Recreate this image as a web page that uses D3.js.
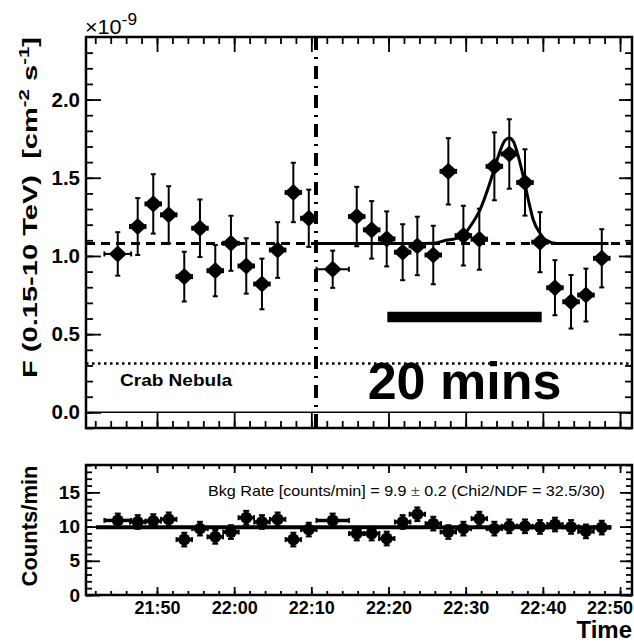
<!DOCTYPE html>
<html>
<head>
<meta charset="utf-8">
<script src="https://cdn.jsdelivr.net/npm/d3@7"></script>
<style>
  html, body { margin: 0; padding: 0; background: #fff; }
  svg { display: block; }
  text { font-family: "Liberation Sans", Arial, Helvetica, sans-serif; fill: #000; }
</style>
</head>
<body>
<svg id="chart" width="634" height="644"></svg>
<script>
// ---- light curve: 2-minute bins ----
const binTimes = [
  "21:44:55","21:47:30","21:49:31","21:51:31","21:53:32","21:55:34","21:57:33",
  "21:59:35","22:01:34","22:03:36","22:05:38","22:07:40","22:09:40","22:12:46",
  "22:15:53","22:17:49","22:19:46","22:21:50","22:23:44","22:25:48","22:27:45",
  "22:29:42","22:31:46","22:33:43","22:35:39","22:37:41","22:39:38","22:41:34",
  "22:43:39","22:45:35","22:47:38"
];
// half bin width in minutes
const binHalfWidth = [
  1.73,1,1,1,1,1,1,1,1,1,1,1,1,2.1,1,1,1,1,1,1,1,1,1,1,1,1,1,1,1,1,1
];
// integral flux above 0.15 TeV, units of 1e-9 cm^-2 s^-1
const flux = [
  1.013,1.188,1.333,1.263,0.868,1.177,0.906,1.081,0.936,0.821,1.038,1.406,1.241,
  0.915,1.252,1.167,1.109,1.024,1.064,1.006,1.541,1.130,1.107,1.573,1.652,1.470,
  1.088,0.797,0.707,0.750,0.985
];
const fluxErr = [
  0.139,0.182,0.190,0.183,0.159,0.184,0.164,0.176,0.177,0.162,0.178,0.190,0.183,
  0.119,0.190,0.184,0.176,0.179,0.187,0.187,0.212,0.191,0.195,0.217,0.222,0.212,
  0.192,0.176,0.171,0.169,0.186
];
// background rate per bin (counts/min)
const bkgRate = [
  10.9,10.67,10.8,11.06,8.1,9.7,8.5,9.2,11.3,10.67,11.06,8.1,9.56,10.9,8.98,8.98,
  8.25,10.67,11.8,10.43,9.2,9.7,11.16,9.7,10.04,10.04,9.95,10.3,9.95,9.3,9.85
];
const bkgErr = [
  1,1,1,1,1,1,1,1,1,1,1,1,1,1,1,1,1,1,1,1,1,1,1,1,1,1,1,1,1,1,1
];

// reference levels
const meanFlux = 1.08;
const crabFlux = 0.312;
const bkgMean = 9.9;
const bkgFitStart = "21:42:06";
const bkgFitEnd = "22:48:54";
const splitTime = "22:10:36";

// flare fit curve (second part of the night)
const fitTimes = [
  "22:10:36","22:21:30","22:25:48","22:27:06","22:29:30","22:30:36","22:31:51",
  "22:33:09","22:33:48","22:34:27","22:35:06","22:35:39","22:36:10","22:36:49",
  "22:37:28","22:38:07","22:38:46","22:39:38","22:40:30","22:41:48","22:48:30"
];
const fitFlux = [
  1.08,1.08,1.081,1.096,1.124,1.19,1.295,1.47,1.573,1.67,1.74,1.754,1.733,1.637,
  1.508,1.359,1.23,1.145,1.098,1.08,1.08
];

// 20-minute scale bar
const scaleBarStart = "22:19:51";
const scaleBarMinutes = 20;
const scaleBarLevel = 0.61;

// axis tick settings
const fluxMajorTicks = [0, 0.5, 1.0, 1.5, 2.0];
const rateMajorTicks = [0, 5, 10, 15];
const timeDomain = ["21:40:48", "22:51:33"];

// ---------------------------------------------------------------
const parse = d3.timeParse("%H:%M:%S");
const svg = d3.select("#chart");

const W = 634;
const L = 86, R = 632;
const topT = 37, topB = 428;
const botT = 465, botB = 595;

const x = d3.scaleTime().domain(timeDomain.map(parse)).range([L, R]);
const yF = d3.scaleLinear().domain([-0.1, 2.4]).range([topB, topT]);
const yC = d3.scaleLinear().domain([0, 19]).range([botB, botT]);

const addMin = (t, m) => new Date(t.getTime() + m * 60000);
const bins = binTimes.map((s, i) => ({
  t: parse(s), hw: binHalfWidth[i],
  f: flux[i], fe: fluxErr[i], b: bkgRate[i], be: bkgErr[i]
}));

const majorTime = d3.timeMinute.every(10);
const minorTime = d3.timeMinute.every(2);

function styleAxis(g, w) {
  g.select(".domain").remove();
  g.selectAll(".tick line").attr("stroke", "#000").attr("stroke-width", w);
}

function frameAxes(yScale, top, bottom, opts) {
  const g = svg.append("g");
  // time axes, bottom and top
  g.append("g").attr("transform", `translate(0,${bottom})`)
    .call(d3.axisBottom(x).ticks(minorTime).tickSize(-opts.tMinor).tickFormat(""))
    .call(s => styleAxis(s, 1.8));
  const bMaj = g.append("g").attr("transform", `translate(0,${bottom})`)
    .call(d3.axisBottom(x).ticks(majorTime).tickSize(-opts.tMajor).tickPadding(opts.labelPad)
      .tickFormat(opts.timeLabels ? d3.timeFormat("%H:%M") : ""))
    .call(s => styleAxis(s, 1.8));
  bMaj.selectAll("text").attr("font-size", 18).attr("font-weight", "bold")
    .attr("dy", "0.71em").attr("fill", "#000");
  // keep the last time label inside the page
  bMaj.selectAll(".tick").each(function () {
    const t = d3.select(this).select("text");
    if (t.empty() || !t.text()) return;
    const box = this.getBBox();
    const tx = +d3.select(this).attr("transform").match(/translate\(([-\d.]+)/)[1];
    const half = t.node().getComputedTextLength() / 2;
    if (tx + half > W - 1) t.attr("x", W - 1 - half - tx);
  });
  g.append("g").attr("transform", `translate(0,${top})`)
    .call(d3.axisTop(x).ticks(minorTime).tickSize(-opts.tMinor).tickFormat(""))
    .call(s => styleAxis(s, 1.8));
  g.append("g").attr("transform", `translate(0,${top})`)
    .call(d3.axisTop(x).ticks(majorTime).tickSize(-opts.tMajor).tickFormat(""))
    .call(s => styleAxis(s, 1.8));
  // value axes, left and right
  g.append("g").attr("transform", `translate(${L},0)`)
    .call(d3.axisLeft(yScale).tickValues(opts.yMinor).tickSize(-opts.yMinorLen).tickFormat(""))
    .call(s => styleAxis(s, 1.8));
  const lMaj = g.append("g").attr("transform", `translate(${L},0)`)
    .call(d3.axisLeft(yScale).tickValues(opts.yMajor).tickSize(-opts.yMajorLen)
      .tickPadding(6).tickFormat(opts.yFormat))
    .call(s => styleAxis(s, 1.8));
  lMaj.selectAll("text").attr("font-size", opts.yFont).attr("font-weight", "bold").attr("fill", "#000");
  g.append("g").attr("transform", `translate(${R},0)`)
    .call(d3.axisRight(yScale).tickValues(opts.yMinor).tickSize(-opts.yMinorLen).tickFormat(""))
    .call(s => styleAxis(s, 1.8));
  g.append("g").attr("transform", `translate(${R},0)`)
    .call(d3.axisRight(yScale).tickValues(opts.yMajor).tickSize(-opts.yMajorLenR).tickFormat(""))
    .call(s => styleAxis(s, 1.8));
  g.append("rect").attr("x", L).attr("y", top).attr("width", R - L).attr("height", bottom - top)
    .attr("fill", "none").attr("stroke", "#000").attr("stroke-width", 2.5);
}

// ================= upper panel: flux =================
frameAxes(yF, topT, topB, {
  tMajor: 15, tMinor: 7, labelPad: 0, timeLabels: false,
  yMajor: fluxMajorTicks, yMinor: d3.range(-1, 24).map(k => k / 10),
  yMajorLen: 15, yMinorLen: 7, yMajorLenR: 13, yFont: 20.5, yFormat: d3.format(".1f")
});

// zero line
svg.append("line").attr("x1", L).attr("x2", R).attr("y1", yF(0)).attr("y2", yF(0))
  .attr("stroke", "#000").attr("stroke-width", 1.5);

// Crab Nebula reference level
svg.append("line").attr("x1", L).attr("x2", R).attr("y1", yF(crabFlux)).attr("y2", yF(crabFlux))
  .attr("stroke", "#000").attr("stroke-width", 2.5).attr("stroke-dasharray", "2.5,3.5");
svg.append("text").attr("x", 120).attr("y", yF(crabFlux) + 22)
  .attr("font-size", 17).attr("font-weight", "bold")
  .attr("textLength", 112).attr("lengthAdjust", "spacingAndGlyphs")
  .text("Crab Nebula");

// mean flux level
svg.append("line").attr("x1", L).attr("x2", R).attr("y1", yF(meanFlux)).attr("y2", yF(meanFlux))
  .attr("stroke", "#000").attr("stroke-width", 3).attr("stroke-dasharray", "9,6");

// boundary between the two observation parts
svg.append("line").attr("x1", x(parse(splitTime))).attr("x2", x(parse(splitTime)))
  .attr("y1", topT).attr("y2", topB)
  .attr("stroke", "#000").attr("stroke-width", 4).attr("stroke-dasharray", "13,7,2,7");

// flare fit
const fitLine = d3.line().x(d => x(d.t)).y(d => yF(d.f)).curve(d3.curveMonotoneX);
svg.append("path")
  .datum(fitTimes.map((s, i) => ({ t: parse(s), f: fitFlux[i] })))
  .attr("d", fitLine).attr("fill", "none").attr("stroke", "#000").attr("stroke-width", 3);

// error bars and markers
const gF = svg.append("g").attr("stroke", "#000").attr("stroke-width", 2);
bins.forEach(d => {
  const cx = x(d.t), cy = yF(d.f);
  const y0 = yF(d.f - d.fe), y1 = yF(d.f + d.fe);
  const x0 = x(addMin(d.t, -d.hw)), x1 = x(addMin(d.t, d.hw));
  gF.append("line").attr("x1", cx).attr("x2", cx).attr("y1", y0).attr("y2", y1);
  gF.append("line").attr("x1", cx - 2.5).attr("x2", cx + 2.5).attr("y1", y0).attr("y2", y0);
  gF.append("line").attr("x1", cx - 2.5).attr("x2", cx + 2.5).attr("y1", y1).attr("y2", y1);
  gF.append("line").attr("x1", x0).attr("x2", x1).attr("y1", cy).attr("y2", cy);
  gF.append("line").attr("x1", x0).attr("x2", x0).attr("y1", cy - 2.5).attr("y2", cy + 2.5);
  gF.append("line").attr("x1", x1).attr("x2", x1).attr("y1", cy - 2.5).attr("y2", cy + 2.5);
});
svg.append("g").selectAll("path").data(bins).join("path")
  .attr("transform", d => `translate(${x(d.t)},${yF(d.f)})`)
  .attr("d", "M0,-7.5L8,0L0,7.5L-8,0Z")
  .attr("fill", "#000").attr("stroke", "#000").attr("stroke-width", 1.5)
  .attr("stroke-linejoin", "round");

// scale bar
const sb0 = parse(scaleBarStart), sb1 = addMin(sb0, scaleBarMinutes);
svg.append("line").attr("x1", x(sb0)).attr("x2", x(sb1))
  .attr("y1", yF(scaleBarLevel)).attr("y2", yF(scaleBarLevel))
  .attr("stroke", "#000").attr("stroke-width", 10.5);
svg.append("text").attr("x", (x(sb0) + x(sb1)) / 2).attr("y", 399)
  .attr("text-anchor", "middle").attr("font-size", 52).attr("font-weight", "bold")
  .text(scaleBarMinutes + " mins");

// exponent and axis title
const expo = svg.append("text").attr("x", 85).attr("y", 34).attr("font-size", 20)
  .attr("textLength", 52).attr("lengthAdjust", "spacingAndGlyphs");
expo.append("tspan").text("\u00d710");
expo.append("tspan").attr("dy", -9).attr("font-size", 16).text("-9");

const yTitle = svg.append("text")
  .attr("transform", "translate(37,378) rotate(-90)")
  .attr("font-size", 20).attr("font-weight", "bold")
  .attr("textLength", 341).attr("lengthAdjust", "spacingAndGlyphs")
  .style("white-space", "pre");
yTitle.append("tspan").text("F (0.15-10 TeV)  [cm");
yTitle.append("tspan").attr("dy", -8).attr("font-size", 14).text("-2");
yTitle.append("tspan").attr("dy", 8).text(" s");
yTitle.append("tspan").attr("dy", -8).attr("font-size", 14).text("-1");
yTitle.append("tspan").attr("dy", 8).text("]");

// ================= lower panel: background rate =================
frameAxes(yC, botT, botB, {
  tMajor: 8, tMinor: 4, labelPad: 6, timeLabels: true,
  yMajor: rateMajorTicks, yMinor: d3.range(0, 20),
  yMajorLen: 14, yMinorLen: 6, yMajorLenR: 12, yFont: 19, yFormat: d3.format("d")
});

svg.append("line")
  .attr("x1", x(parse(bkgFitStart))).attr("x2", x(parse(bkgFitEnd)))
  .attr("y1", yC(bkgMean)).attr("y2", yC(bkgMean))
  .attr("stroke", "#000").attr("stroke-width", 4);

const gB = svg.append("g").attr("stroke", "#000").attr("stroke-width", 2);
bins.forEach(d => {
  const cx = x(d.t), cy = yC(d.b);
  const y0 = yC(d.b - d.be), y1 = yC(d.b + d.be);
  const x0 = x(addMin(d.t, -d.hw)), x1 = x(addMin(d.t, d.hw));
  gB.append("line").attr("x1", cx).attr("x2", cx).attr("y1", y0).attr("y2", y1).attr("stroke-width", 3.5);
  gB.append("line").attr("x1", cx - 3).attr("x2", cx + 3).attr("y1", y0).attr("y2", y0);
  gB.append("line").attr("x1", cx - 3).attr("x2", cx + 3).attr("y1", y1).attr("y2", y1);
  gB.append("line").attr("x1", x0).attr("x2", x1).attr("y1", cy).attr("y2", cy).attr("stroke-width", 3.5);
  gB.append("line").attr("x1", x0).attr("x2", x0).attr("y1", cy - 2.5).attr("y2", cy + 2.5);
  gB.append("line").attr("x1", x1).attr("x2", x1).attr("y1", cy - 2.5).attr("y2", cy + 2.5);
});
svg.append("g").selectAll("circle").data(bins).join("circle")
  .attr("cx", d => x(d.t)).attr("cy", d => yC(d.b)).attr("r", 6).attr("fill", "#000");

const bkgText = svg.append("text").attr("x", 208).attr("y", 496)
  .attr("font-size", 15).attr("textLength", 397).attr("lengthAdjust", "spacingAndGlyphs");
bkgText.append("tspan").text("Bkg Rate [counts/min] = 9.9 ");
bkgText.append("tspan").attr("fill", "#555").text("\u00b1");
bkgText.append("tspan").text(" 0.2 (Chi2/NDF = 32.5/30)");

svg.append("text")
  .attr("transform", "translate(37,526) rotate(-90)")
  .attr("text-anchor", "middle").attr("font-size", 22).attr("font-weight", "bold")
  .text("Counts/min");

svg.append("text").attr("x", 632).attr("y", 638).attr("text-anchor", "end")
  .attr("font-size", 24).attr("font-weight", "bold").text("Time");
</script>
</body>
</html>
